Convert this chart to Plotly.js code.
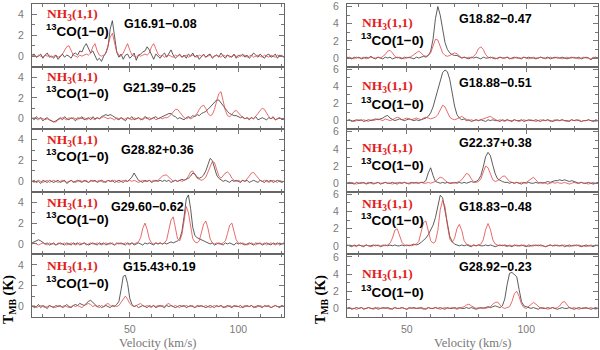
<!DOCTYPE html>
<html>
<head>
<meta charset="utf-8">
<script src="https://cdn.plot.ly/plotly-3.0.1.min.js"></script>
<style>
  html, body { margin: 0; padding: 0; background: #fff; }
  #chart { width: 600px; height: 350px; }
</style>
</head>
<body>
<div id="chart"></div>
<script>
// ------------------------------------------
// Spectra: 13CO(1-0) (black) and NH3(1,1) (red), T_MB in K
// 1 km/s channels. Left column starts at 5 km/s, right at 25 km/s
// ------------------------------------------
const vStartLeft = 5;
const vStartRight = 25;

const sourceNames = ['G16.91−0.08', 'G21.39−0.25', 'G28.82+0.36', 'G29.60−0.62', 'G15.43+0.19',
                     'G18.82−0.47', 'G18.88−0.51', 'G22.37+0.38', 'G18.83−0.48', 'G28.92−0.23'];

// --- left column (5..121 km/s) ---
const coG16_91 = [0.1,0.2,-0.1,0.0,0.2,-0.2,0.1,0.3,-0.1,0.0, -0.2,0.1,-0.3,0.0,0.2,-0.1,0.1,0.0,-0.2,0.2,
  0.3,0.1,0.5,0.4,0.9,1.2,0.7,0.3,0.5,0.1, -0.4,-0.2,-0.5,0.0,0.3,0.9,2.6,3.4,1.6,0.4,
  -0.1,0.2,-0.3,0.1,0.2,-0.2,0.0,0.3,-0.4,0.1, 0.2,0.4,0.5,0.9,0.6,0.1,-0.3,0.2,0.0,-0.2,
  0.1,0.3,-0.1,0.2,0.6,0.1,-0.2,0.0,0.2,-0.1, 0.1,-0.2,0.2,0.0,0.3,-0.1,0.1,-0.3,0.0,0.2,
  -0.1,0.1,0.2,-0.2,0.0,0.1,-0.1,0.3,0.0,-0.2, 0.1,0.0,-0.1,0.2,-0.2,0.1,0.0,0.2,-0.1,0.1,
  -0.2,0.0,0.3,0.1,-0.1,0.2,0.0,-0.2,0.1,0.2, -0.1,0.0,0.2,-0.2,0.1,0.0,-0.1];
const nh3G16_91 = [0.0,0.1,-0.1,0.1,0.0,-0.1,0.1,0.0,0.1,-0.1, 0.0,0.1,-0.1,0.0,0.2,0.5,0.9,1.0,0.5,0.1,
  0.0,-0.1,0.1,0.0,0.1,0.2,0.1,0.3,0.9,1.2, 0.5,0.1,0.0,0.1,0.3,1.0,1.8,2.2,1.3,0.4,
  0.1,0.0,0.3,0.8,1.2,0.6,0.1,0.0,-0.1,0.1, 0.0,0.1,0.2,0.1,0.3,0.9,1.2,0.7,0.2,0.0,
  0.1,-0.1,0.0,0.1,0.0,-0.1,0.1,0.0,0.1,-0.1, 0.0,0.1,-0.1,0.0,0.1,0.0,-0.1,0.1,0.0,0.1,
  -0.1,0.0,0.1,-0.1,0.0,0.1,0.0,-0.1,0.1,0.0, 0.1,-0.1,0.0,0.1,0.0,-0.1,0.1,0.0,0.1,-0.1,
  0.0,0.1,-0.1,0.0,0.1,0.0,-0.1,0.1,0.0,-0.1, 0.1,0.0,-0.1,0.1,0.0,0.1,-0.1];

const coG21_39 = [0.1,-0.1,0.2,0.0,0.1,-0.2,0.0,0.1,-0.1,-0.2, -0.3,-0.2,0.0,0.1,-0.1,0.2,0.0,-0.1,0.1,0.0,
  -0.2,0.1,0.0,0.2,-0.1,0.0,0.1,-0.1,0.2,0.0, 0.1,0.0,0.2,0.3,0.4,0.3,0.4,0.3,0.1,0.0,
  -0.1,0.1,0.0,-0.2,0.1,0.0,0.2,-0.1,0.0,0.1, -0.1,0.0,0.2,0.1,-0.1,0.0,0.1,0.2,0.0,0.1,
  0.2,0.3,0.4,0.5,0.5,0.3,0.2,0.0,0.1,0.0, -0.1,0.1,0.2,0.1,0.3,0.2,0.4,0.3,0.5,0.6,
  0.7,0.9,1.1,1.4,1.6,1.8,1.8,1.5,1.2,0.9, 0.7,0.5,0.4,0.3,0.3,0.2,0.1,0.2,0.0,0.1,
  -0.1,0.1,0.0,0.2,-0.1,0.0,0.1,0.0,-0.1,0.1, 0.0,0.2,-0.1,0.0,0.1,-0.1,0.0];
const nh3G21_39 = [0.0,0.1,0.0,-0.1,0.1,0.0,-0.1,0.0,-0.1,-0.2, -0.3,-0.3,-0.1,0.0,0.1,0.0,-0.1,0.1,0.0,0.1,
  0.0,-0.1,0.1,0.0,0.1,-0.1,0.0,0.1,0.0,-0.1, 0.1,0.0,0.1,0.2,0.1,0.0,0.1,0.0,-0.1,0.1,
  0.0,0.1,-0.1,0.0,0.1,0.0,-0.1,0.1,0.0,0.1, 0.0,-0.1,0.1,0.0,0.1,0.0,0.1,-0.1,0.0,0.1,
  0.0,0.1,0.1,0.2,0.4,0.7,0.9,0.9,0.6,0.3, 0.1,0.0,0.1,0.0,0.1,0.3,0.5,0.9,1.2,1.3,
  1.0,0.5,0.3,0.4,0.9,1.7,2.4,2.6,1.8,0.8, 0.3,0.2,0.4,0.7,0.8,0.6,0.3,0.1,0.0,0.1,
  0.0,0.1,0.0,0.2,0.5,0.8,1.0,0.9,0.5,0.2, 0.0,0.1,-0.1,0.0,0.1,0.0,-0.1];

const coG28_82 = [0.0,0.1,-0.1,0.0,-0.2,0.1,0.0,-0.1,0.1,0.0, -0.1,0.0,0.1,-0.1,0.0,0.1,-0.2,0.0,0.1,-0.1,
  0.0,0.1,0.0,-0.1,0.1,0.0,-0.1,0.1,0.0,0.1, -0.1,0.0,0.1,0.0,-0.1,0.1,0.0,0.1,-0.1,0.0,
  0.1,0.0,-0.1,0.1,0.0,0.2,0.4,0.8,0.5,0.1, 0.0,-0.1,0.1,0.0,0.1,-0.1,0.0,0.1,0.0,0.1,
  0.0,0.1,0.0,0.1,-0.1,0.0,0.1,0.0,0.1,0.2, 0.1,0.2,0.3,0.5,0.8,0.7,0.4,0.3,0.4,0.6,
  1.0,1.6,2.2,2.0,1.3,0.6,0.3,0.1,0.0,0.1, 0.0,-0.1,0.1,0.0,0.1,0.0,-0.1,0.1,0.0,0.1,
  -0.1,0.0,0.1,0.0,-0.1,0.1,0.0,-0.1,0.1,0.0, 0.1,-0.1,0.0,0.1,0.0,-0.1,0.0];
const nh3G28_82 = [0.0,-0.1,0.0,0.1,0.0,-0.1,0.0,0.1,-0.1,0.0, 0.1,0.0,-0.1,0.0,0.1,0.0,-0.1,0.0,0.1,0.0,
  -0.1,0.0,0.1,0.0,0.0,0.1,-0.1,0.0,0.1,0.0, 0.0,0.1,0.0,-0.1,0.0,0.1,0.0,0.0,0.1,0.0,
  -0.1,0.0,0.1,0.0,0.0,0.1,0.0,0.1,0.0,-0.1, 0.0,0.1,0.0,0.0,0.1,0.0,0.1,0.0,0.1,0.3,
  0.5,0.6,0.6,0.4,0.2,0.0,0.1,0.0,0.1,0.0, 0.1,0.2,0.5,0.9,1.0,0.7,0.3,0.2,0.1,0.2,
  0.4,0.9,1.5,1.9,1.8,1.1,0.5,0.3,0.5,0.8, 0.9,0.7,0.3,0.1,0.0,0.1,0.0,0.1,0.0,0.2,
  0.5,0.8,0.85,0.6,0.3,0.1,0.0,0.1,0.0,-0.1, 0.0,0.1,0.0,-0.1,0.1,0.0,0.0];

const coG29_60 = [0.1,0.2,0.3,0.4,0.3,0.1,0.0,0.1,-0.1,0.0, 0.1,-0.1,0.0,0.1,0.0,-0.1,0.1,0.0,-0.1,0.1,
  0.0,0.1,-0.1,0.0,0.1,0.0,-0.1,0.0,0.1,0.0, -0.1,0.1,0.0,0.1,-0.1,0.0,0.1,0.0,-0.1,0.1,
  0.0,0.1,0.0,-0.1,0.1,0.0,0.1,-0.1,0.0,0.1, 0.0,-0.1,0.1,0.0,0.1,0.0,-0.1,0.1,0.0,0.1,
  0.0,0.1,0.0,0.1,0.2,0.1,0.2,0.3,0.5,1.2, 2.6,4.3,4.7,3.4,1.6,0.8,0.6,0.5,0.4,0.3,
  0.2,0.1,0.0,0.1,-0.1,0.0,0.1,0.0,-0.1,0.1, 0.0,0.1,0.0,-0.1,0.1,0.0,0.1,0.0,-0.1,0.0,
  0.1,0.0,-0.1,0.1,0.0,0.1,-0.1,0.0,0.1,0.0, -0.1,0.1,0.0,0.1,-0.1,0.0,0.1];
const nh3G29_60 = [0.0,0.1,0.0,-0.1,0.0,0.1,0.0,-0.1,0.1,0.0, 0.0,-0.1,0.1,0.0,0.0,0.1,-0.1,0.0,0.1,0.0,
  -0.1,0.0,0.1,0.0,0.1,-0.1,0.0,0.1,0.0,0.0, 0.1,0.0,-0.1,0.0,0.1,0.0,0.0,0.1,-0.1,0.0,
  0.1,0.0,0.0,0.1,0.0,-0.1,0.1,0.0,0.1,0.2, 0.6,1.5,2.0,1.4,0.5,0.1,0.0,0.1,0.0,0.1,
  0.0,0.1,0.4,1.3,2.3,2.6,1.6,0.5,0.3,0.9, 2.2,3.6,3.0,1.5,0.5,0.2,0.1,0.3,1.0,1.9,
  2.2,1.5,0.5,0.1,0.0,0.1,0.0,0.0,0.1,0.3, 1.0,1.8,2.0,1.3,0.4,0.1,0.0,0.1,0.0,-0.1,
  0.0,0.1,0.0,-0.1,0.1,0.0,0.0,0.1,-0.1,0.0, 0.1,0.0,-0.1,0.0,0.1,0.0,0.0];

const coG15_43 = [0.1,-0.1,0.0,0.2,-0.1,0.1,0.0,-0.2,0.1,0.0, -0.1,0.1,0.0,0.1,-0.1,0.0,0.2,0.0,-0.1,0.1,
  0.2,0.1,0.3,0.2,0.1,0.3,0.5,0.6,0.4,0.2, 0.0,0.1,-0.1,0.0,0.1,0.0,-0.1,0.1,0.0,0.2,
  0.5,1.6,2.9,3.0,2.2,0.8,0.2,0.0,0.1,-0.1, 0.0,0.1,0.0,-0.1,0.1,0.0,0.1,-0.1,0.0,0.1,
  0.0,-0.1,0.1,0.0,0.1,0.0,-0.1,0.0,0.1,0.0, 0.1,-0.1,0.0,0.1,0.0,-0.1,0.1,0.0,0.1,0.0,
  -0.1,0.0,0.1,0.0,-0.1,0.1,0.0,0.1,-0.1,0.0, 0.1,0.0,-0.1,0.1,0.0,0.0,0.1,-0.1,0.0,0.1,
  0.0,0.1,-0.1,0.0,0.1,0.0,-0.1,0.1,0.0,0.1, -0.1,0.0,0.1,0.0,-0.1,0.1,0.0];
const nh3G15_43 = [0.0,0.1,-0.1,0.0,0.1,0.0,-0.1,0.0,0.1,0.0, 0.0,-0.1,0.1,0.0,0.0,0.1,0.0,-0.1,0.0,0.1,
  0.0,0.1,0.0,-0.1,0.1,0.2,0.3,0.2,0.0,0.1, 0.0,-0.1,0.1,0.0,0.2,0.3,0.1,0.0,0.1,0.0,
  0.1,0.4,0.8,1.0,0.7,0.3,0.1,0.0,0.1,0.2, 0.3,0.1,0.0,0.1,0.0,-0.1,0.1,0.0,0.1,0.0,
  0.1,0.0,0.2,0.3,0.1,0.0,0.1,0.0,-0.1,0.1, 0.0,0.1,0.0,0.0,0.1,-0.1,0.0,0.1,0.0,0.0,
  0.1,0.0,-0.1,0.0,0.1,0.0,0.0,0.1,0.0,-0.1, 0.0,0.1,0.0,0.0,0.1,0.0,-0.1,0.0,0.1,0.0,
  0.0,0.1,0.0,-0.1,0.0,0.1,0.0,0.0,0.1,0.0, -0.1,0.0,0.1,0.0,0.0,0.1,0.0];

// --- right column (25..130 km/s) ---
const coG18_82 = [0.1,0.0,-0.1,0.1,0.0,0.1,-0.1,0.0,0.1,0.0, 0.2,0.0,-0.1,0.1,0.0,-0.1,0.1,0.0,0.1,-0.1,
  0.0,0.1,0.0,-0.1,0.1,0.0,0.1,0.0,-0.1,0.1, 0.0,0.1,0.2,0.1,0.3,0.8,2.2,4.6,6.0,5.0,
  3.2,1.8,1.0,0.6,0.4,0.3,0.3,0.1,0.0,0.1, 0.0,-0.1,0.1,0.0,0.1,0.0,-0.1,0.1,0.0,0.0,
  0.1,0.0,-0.1,0.0,0.1,0.0,0.0,0.1,-0.1,0.0, 0.1,0.0,0.0,-0.1,0.1,0.0,0.1,0.0,0.0,-0.1,
  0.0,0.1,0.0,0.0,0.1,-0.1,0.0,0.1,0.0,0.0, 0.1,0.0,-0.1,0.0,0.1,0.0,0.0,0.1,-0.1,0.0,
  0.1,0.0,-0.2,0.0,0.1,0.0];
const nh3G18_82 = [0.0,0.1,0.0,-0.1,0.1,0.0,0.0,0.1,-0.1,0.0, 0.1,0.0,0.0,0.1,0.0,0.2,0.4,0.8,0.9,0.6,
  0.2,0.0,0.1,0.0,-0.1,0.1,0.0,0.2,0.4,0.7, 0.8,0.6,0.3,0.2,0.3,0.6,1.4,2.2,2.1,1.3,
  0.6,0.3,0.2,0.3,0.5,0.6,0.5,0.2,0.0,0.1, 0.0,0.1,0.0,0.2,0.5,1.1,1.3,1.0,0.4,0.1,
  0.0,0.1,0.0,-0.1,0.1,0.0,0.0,0.1,0.0,-0.1, 0.0,0.1,0.0,0.0,0.1,0.0,-0.1,0.0,0.1,0.0,
  0.0,0.1,0.0,-0.1,0.0,0.1,0.0,0.0,0.1,0.0, -0.1,0.0,0.1,0.0,0.0,0.1,0.0,-0.1,0.0,0.1,
  0.0,0.0,-0.1,0.1,0.0,0.0];

const coG18_88 = [0.0,0.1,-0.1,0.0,0.1,0.0,0.1,-0.1,0.0,0.1, 0.0,0.1,0.2,0.1,0.2,0.3,0.5,0.6,0.3,0.1,
  0.0,0.1,0.2,0.1,0.0,0.1,0.2,0.1,0.0,0.1, 0.0,0.1,0.2,0.3,0.5,0.9,1.6,2.6,3.8,4.9,
  5.6,5.9,5.7,4.8,3.3,1.7,0.7,0.3,0.1,0.2, 0.0,0.1,-0.1,0.0,0.1,0.0,0.1,0.0,-0.1,0.1,
  0.0,0.1,0.0,0.0,-0.1,0.1,0.0,0.1,0.0,-0.1, 0.1,0.0,0.0,0.1,-0.1,0.0,0.1,0.0,0.0,0.1,
  0.0,-0.1,0.1,0.0,0.1,0.0,-0.1,0.0,0.1,0.0, 0.1,0.0,0.0,-0.1,0.1,0.0,0.1,0.0,-0.1,0.0,
  0.0,0.1,0.0,-0.1,0.1,0.0];
const nh3G18_88 = [0.0,0.1,0.0,-0.1,0.0,0.1,0.0,0.1,0.0,-0.1, 0.1,0.0,0.1,0.2,0.1,0.0,0.2,0.1,0.0,0.1,
  0.3,0.4,0.3,0.1,0.2,0.3,0.2,0.1,0.2,0.3, 0.2,0.1,0.3,0.4,0.3,0.2,0.3,0.4,0.7,1.3,
  1.8,1.6,0.9,0.4,0.2,0.1,0.2,0.4,0.5,0.3, 0.1,0.0,0.1,0.0,0.1,0.0,0.1,0.2,0.3,0.4,
  0.5,0.3,0.1,0.0,0.1,0.0,-0.1,0.1,0.0,0.0, 0.1,0.0,-0.1,0.0,0.1,0.0,0.0,0.1,0.0,-0.1,
  0.0,0.1,0.0,0.0,0.1,-0.1,0.0,0.1,0.0,0.0, 0.1,0.0,-0.1,0.0,0.1,0.0,0.0,0.1,-0.1,0.0,
  0.0,0.1,0.0,0.0,-0.1,0.0];

const coG22_37 = [0.0,0.1,0.0,-0.1,0.1,0.0,0.0,0.1,-0.1,0.0, 0.1,0.0,0.0,0.1,-0.1,0.0,0.1,0.0,0.0,0.1,
  0.0,-0.1,0.1,0.0,0.1,0.0,0.0,0.1,0.0,0.1, 0.0,0.1,0.1,0.3,1.2,1.8,0.9,0.2,0.1,0.0,
  0.1,0.0,0.1,0.0,0.0,0.1,0.0,0.1,0.0,0.1, 0.0,0.1,0.2,0.1,0.2,0.4,0.9,1.9,3.1,3.6,
  3.2,2.1,1.1,0.5,0.3,0.2,0.1,0.1,0.0,0.1, 0.0,0.1,0.0,-0.1,0.1,0.0,0.1,0.0,0.0,0.1,
  0.0,0.1,0.0,0.1,0.2,0.1,0.2,0.3,0.3,0.4, 0.3,0.4,0.3,0.2,0.3,0.2,0.1,0.0,0.1,0.0,
  0.0,0.1,0.0,-0.1,0.0,0.1];
const nh3G22_37 = [0.0,0.0,0.1,0.0,-0.1,0.0,0.1,0.0,0.0,0.1, 0.0,-0.1,0.0,0.1,0.0,0.0,0.1,0.0,0.0,-0.1,
  0.0,0.1,0.0,0.0,0.1,0.0,-0.1,0.0,0.1,0.0, 0.0,0.1,0.0,0.0,0.1,0.0,0.1,0.2,0.5,0.7,
  0.6,0.3,0.1,0.0,0.1,0.0,0.1,0.2,0.4,0.8, 1.15,1.0,0.5,0.2,0.1,0.2,0.5,1.3,2.0,1.8,
  1.0,0.4,0.2,0.3,0.5,0.8,0.85,0.5,0.2,0.1, 0.0,0.1,0.0,0.1,0.0,0.1,0.3,0.6,0.7,0.4,
  0.1,0.0,0.1,0.0,-0.1,0.0,0.1,0.0,0.1,0.0, 0.0,0.1,0.0,-0.1,0.0,0.1,0.0,0.0,0.1,0.0,
  0.0,-0.1,0.0,0.1,0.0,0.0];

const coG18_83 = [0.1,0.0,-0.1,0.1,0.0,0.1,0.0,-0.1,0.1,0.0, 0.0,0.1,0.0,0.1,-0.1,0.0,0.1,0.0,0.1,0.0,
  0.1,0.0,0.0,0.1,0.0,0.1,0.0,0.1,0.2,0.1, 0.2,0.4,0.6,0.9,1.3,1.8,2.4,3.3,4.8,5.9,
  5.6,4.2,2.4,1.1,0.5,0.2,0.1,0.0,0.1,0.0, 0.1,0.0,-0.1,0.1,0.0,0.1,0.0,0.0,0.1,0.0,
  0.1,0.0,-0.1,0.0,0.1,0.0,0.1,0.0,0.0,-0.1, 0.1,0.0,0.0,0.1,0.0,-0.1,0.1,0.0,0.0,0.1,
  0.0,0.1,0.0,-0.1,0.0,0.1,0.0,0.1,0.0,0.0, 0.1,-0.1,0.0,0.1,0.0,0.0,0.1,0.0,-0.1,0.0,
  0.1,0.0,0.0,-0.1,0.1,0.0];
const nh3G18_83 = [0.0,0.1,0.0,0.0,-0.1,0.1,0.0,0.0,0.1,0.0, -0.1,0.0,0.1,0.0,0.0,0.1,0.0,0.1,0.3,0.9,
  1.8,2.0,1.2,0.4,0.1,0.0,0.1,0.0,0.1,0.2, 0.5,1.5,2.7,2.9,1.7,0.6,0.3,0.5,1.8,4.2,
  5.3,4.6,2.4,0.8,0.4,0.9,2.0,2.5,1.8,0.6, 0.2,0.1,0.0,0.1,0.0,0.1,0.2,0.7,1.9,2.6,
  1.9,0.7,0.2,0.1,0.0,0.1,0.0,-0.1,0.1,0.0, 0.0,0.1,0.0,0.0,0.1,0.0,-0.1,0.0,0.1,0.0,
  0.1,0.0,0.0,-0.1,0.0,0.1,0.0,0.0,0.1,0.0, 0.0,0.1,0.0,-0.1,0.0,0.1,0.0,0.1,0.0,0.0,
  -0.1,0.0,0.1,0.0,0.0,0.1];

const coG28_92 = [0.0,0.1,-0.1,0.0,0.1,0.0,0.1,-0.1,0.0,0.1, 0.0,0.0,0.1,-0.1,0.0,0.1,0.0,0.1,0.0,-0.1,
  0.1,0.0,0.0,0.1,0.0,-0.1,0.1,0.0,0.1,0.0, 0.0,0.1,0.0,-0.1,0.1,0.0,0.0,0.1,0.0,0.1,
  0.0,-0.1,0.1,0.0,0.0,0.1,0.0,0.1,0.0,0.0, 0.1,0.0,0.1,0.0,-0.1,0.0,0.1,0.0,0.1,0.2,
  0.1,0.2,0.3,0.2,0.1,0.3,1.1,2.8,4.1,4.2, 3.9,3.7,2.2,0.8,0.3,0.2,0.1,0.0,0.1,0.0,
  -0.1,0.1,0.0,0.0,0.1,0.0,0.1,0.0,-0.1,0.0, 0.1,0.0,0.0,0.1,0.0,-0.1,0.0,0.1,0.0,0.0,
  0.1,0.0,-0.1,0.0,0.1,0.0];
const nh3G28_92 = [0.0,0.1,0.0,0.0,-0.1,0.0,0.1,0.0,0.0,0.1, 0.0,-0.1,0.0,0.1,0.0,0.0,0.1,0.0,-0.1,0.0,
  0.1,0.0,0.0,0.1,0.0,-0.1,0.0,0.1,0.0,0.0, 0.1,0.0,-0.1,0.0,0.1,0.0,0.0,0.1,0.0,-0.1,
  0.0,0.1,0.0,0.0,0.1,0.0,-0.1,0.0,0.1,0.2, 0.4,0.5,0.3,0.1,0.0,0.1,0.0,0.1,0.0,0.1,
  0.2,0.5,0.7,0.75,0.4,0.1,0.0,0.1,0.2,0.8, 1.7,2.0,1.4,0.5,0.1,0.0,0.2,0.5,0.7,0.5,
  0.2,0.0,0.1,0.0,-0.1,0.0,0.1,0.0,0.1,0.3, 0.7,0.8,0.5,0.1,0.0,0.1,0.0,-0.1,0.0,0.1,
  0.0,0.0,0.1,0.0,-0.1,0.0];

const coSeries  = [coG16_91, coG21_39, coG28_82, coG29_60, coG15_43, coG18_82, coG18_88, coG22_37, coG18_83, coG28_92];
const nh3Series = [nh3G16_91, nh3G21_39, nh3G28_82, nh3G29_60, nh3G15_43, nh3G18_82, nh3G18_88, nh3G22_37, nh3G18_83, nh3G28_92];

// label offsets below each panel top (px): [NH3 line, 13CO line, source name], and source name x (px)
const labelOffsets = [[11, 25.5, 20], [11, 25.5, 21], [11, 25.5, 21], [11.5, 26.5, 15], [12.5, 27.5, 12.5],
                      [19, 35, 15], [20, 36, 16], [19, 35, 14], [12.5, 27.5, 15], [20, 37, 12.5]];
const nameX = [122, 121, 119, 109, 120.5, 457, 457, 457, 457, 457];

// ------------------------------------------
// Geometry (pixels in a 600x350 page)
// ------------------------------------------
const W = 600, H = 350;
const PANEL_TOP = 4, PANEL_H = 62.6;
const colX = [[32, 284], [347, 598]];
const colRange = [[5, 121], [25, 130]];
const colYRange = [[-1, 5], [-1, 6.3]];

const GRAY = '#777';
const RED = 'rgb(226,70,70)';
const tickFont = { family: 'Liberation Sans, Arial, sans-serif', size: 10.5, color: '#7a7a7a' };

const px = (x) => x / W;
const py = (y) => 1 - y / H;

const traces = [];
const layout = {
  width: W, height: H,
  margin: { l: 0, r: 0, t: 0, b: 0 },
  paper_bgcolor: '#fff', plot_bgcolor: '#fff',
  showlegend: false,
  annotations: []
};

for (let i = 0; i < 10; i++) {
  const col = i < 5 ? 0 : 1;
  const row = i % 5;
  const n = i + 1;
  const xName = 'x' + n, yName = 'y' + n;
  const vStart = col === 0 ? vStartLeft : vStartRight;
  const vel = coSeries[i].map((_, k) => vStart + k);

  traces.push({
    x: vel, y: coSeries[i], xaxis: xName, yaxis: yName,
    type: 'scatter', mode: 'lines',
    line: { color: '#333', width: 0.8 }, hoverinfo: 'skip'
  });
  traces.push({
    x: vel, y: nh3Series[i], xaxis: xName, yaxis: yName,
    type: 'scatter', mode: 'lines',
    line: { color: RED, width: 0.8 }, hoverinfo: 'skip'
  });

  const top = PANEL_TOP + row * PANEL_H;
  const bottom = top + PANEL_H;

  layout['xaxis' + (n === 1 ? '' : n)] = {
    domain: [px(colX[col][0]), px(colX[col][1])],
    range: colRange[col],
    anchor: yName,
    tick0: 0, dtick: 50,
    ticks: 'inside', ticklen: 5, tickwidth: 1, tickcolor: GRAY,
    minor: { dtick: 10, ticks: 'inside', ticklen: 3, tickcolor: GRAY, tickwidth: 1 },
    showline: true, linecolor: '#666', linewidth: 1, mirror: 'ticks',
    showgrid: false, zeroline: false,
    showticklabels: row === 4,
    tickfont: tickFont, ticklabelstandoff: 2
  };
  layout['yaxis' + (n === 1 ? '' : n)] = {
    domain: [py(bottom), py(top)],
    range: colYRange[col],
    anchor: xName,
    tick0: 0, dtick: 2,
    ticks: 'inside', ticklen: 5, tickwidth: 1, tickcolor: GRAY,
    minor: { dtick: 1, ticks: 'inside', ticklen: 3, tickcolor: GRAY, tickwidth: 1 },
    showline: true, linecolor: '#666', linewidth: 1, mirror: 'ticks',
    showgrid: false, zeroline: false,
    tickfont: tickFont, ticklabelstandoff: 5
  };

  const off = labelOffsets[i];
  const textX = col === 0 ? 45 : 360;
  layout.annotations.push(
    { xref: 'paper', yref: 'paper', x: px(textX), y: py(top + off[0]), xanchor: 'left', yanchor: 'middle',
      text: '<b>NH<sub>3</sub>(1,1)</b>', showarrow: false,
      font: { family: 'Liberation Serif, Times New Roman, serif', size: 13.5, weight: 'bold', color: 'rgb(225,30,30)' } },
    { xref: 'paper', yref: 'paper', x: px(textX - 1), y: py(top + off[1]), xanchor: 'left', yanchor: 'middle',
      text: '<b><sup>13</sup>CO(1−0)</b>', showarrow: false,
      font: { family: 'Liberation Sans, Arial, sans-serif', size: 13.5, weight: 'bold', color: '#000' } },
    { xref: 'paper', yref: 'paper', x: px(nameX[i]), y: py(top + off[2]), xanchor: 'left', yanchor: 'middle',
      text: '<b>' + sourceNames[i] + '</b>', showarrow: false,
      font: { family: 'Liberation Sans, Arial, sans-serif', size: 12.5, weight: 'bold', color: '#000' } }
  );
}

// axis titles
[0, 1].forEach((col) => {
  const cx = (colX[col][0] + colX[col][1]) / 2;
  layout.annotations.push(
    { xref: 'paper', yref: 'paper', x: px(cx), y: py(342.5), xanchor: 'center', yanchor: 'middle',
      text: 'Velocity (km/s)', showarrow: false,
      font: { family: 'Liberation Serif, Times New Roman, serif', size: 12.5, color: '#777' } },
    { xref: 'paper', yref: 'paper', x: px(col === 0 ? 9 : 321), y: py(300), xanchor: 'center', yanchor: 'middle',
      text: '<b>T<sub>MB</sub> (K)</b>', textangle: -90, showarrow: false,
      font: { family: 'Liberation Serif, Times New Roman, serif', size: 14, weight: 'bold', color: '#000' } }
  );
});

Plotly.newPlot('chart', traces, layout, { displayModeBar: false, staticPlot: true });
</script>
</body>
</html>
